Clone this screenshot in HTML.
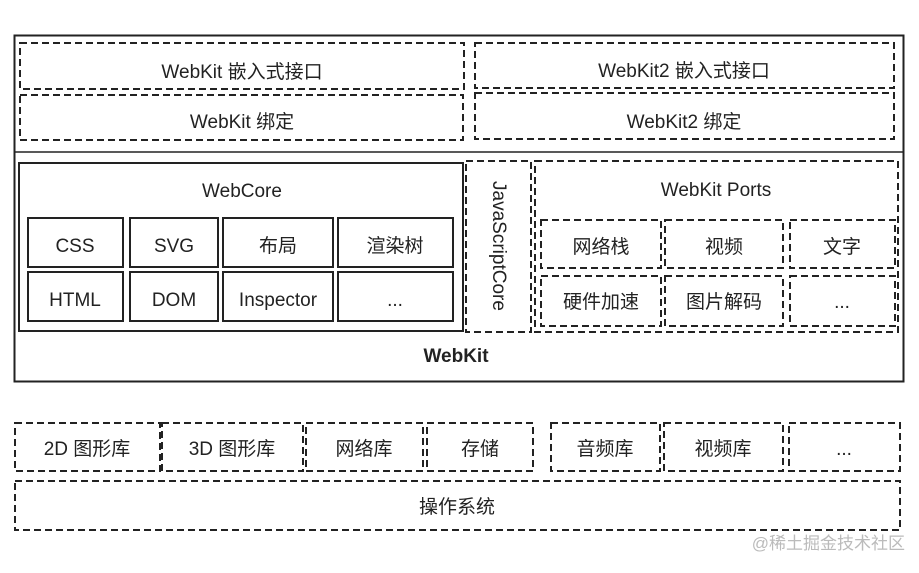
<!DOCTYPE html>
<html><head><meta charset="utf-8"><style>
html,body{margin:0;padding:0;background:#fff;}
svg text{font-family:"Liberation Sans","Noto Sans CJK SC",sans-serif;fill:#222;}
</style></head><body>
<svg width="919" height="568" viewBox="0 0 919 568" xmlns="http://www.w3.org/2000/svg">
<g fill="none" stroke="#222">
<rect x="14.5" y="35.5" width="889" height="346" stroke-width="2"/>
<line x1="14" y1="152" x2="904" y2="152" stroke-width="1.5"/>
<g stroke-dasharray="7,4" stroke-width="2">
<rect x="20" y="43" width="444" height="46"/>
<rect x="20" y="95" width="443" height="45"/>
<rect x="475" y="43" width="419" height="45"/>
<rect x="475" y="93" width="419" height="46"/>
<rect x="466" y="161" width="65" height="171"/>
<rect x="535" y="161" width="363" height="171"/>
<rect x="541" y="220" width="120" height="48"/>
<rect x="665" y="220" width="118" height="48"/>
<rect x="790" y="220" width="105" height="48"/>
<rect x="541" y="276" width="120" height="50"/>
<rect x="665" y="276" width="118" height="50"/>
<rect x="790" y="276" width="105" height="50"/>
<rect x="15" y="423" width="145" height="48"/>
<rect x="162" y="423" width="141" height="48"/>
<rect x="306" y="423" width="117" height="48"/>
<rect x="427" y="423" width="106" height="48"/>
<rect x="551" y="423" width="109" height="48"/>
<rect x="664" y="423" width="119" height="48"/>
<rect x="789" y="423" width="111" height="48"/>
<rect x="15" y="481" width="885" height="49"/>
</g>
<g stroke-width="2">
<rect x="19" y="163" width="444" height="168"/>
<rect x="28" y="218" width="95" height="49"/>
<rect x="130" y="218" width="88" height="49"/>
<rect x="223" y="218" width="110" height="49"/>
<rect x="338" y="218" width="115" height="49"/>
<rect x="28" y="272" width="95" height="49"/>
<rect x="130" y="272" width="88" height="49"/>
<rect x="223" y="272" width="110" height="49"/>
<rect x="338" y="272" width="115" height="49"/>
</g>
</g>
<g font-size="19" text-anchor="middle">
<text x="242" y="78">WebKit 嵌入式接口</text>
<text x="242" y="128">WebKit 绑定</text>
<text x="684" y="77">WebKit2 嵌入式接口</text>
<text x="684" y="128">WebKit2 绑定</text>
<text x="242" y="197">WebCore</text>
<text x="716" y="196">WebKit Ports</text>
<text x="75" y="252">CSS</text>
<text x="174" y="252">SVG</text>
<text x="278" y="252">布局</text>
<text x="395" y="252">渲染树</text>
<text x="75" y="306">HTML</text>
<text x="174" y="306">DOM</text>
<text x="278" y="306">Inspector</text>
<text x="395" y="306">...</text>
<text x="601" y="253">网络栈</text>
<text x="724" y="253">视频</text>
<text x="842" y="253">文字</text>
<text x="601" y="308">硬件加速</text>
<text x="724" y="308">图片解码</text>
<text x="842" y="308">...</text>
<text x="498" y="246" transform="rotate(90 498 246)" dominant-baseline="middle">JavaScriptCore</text>
<text x="456" y="362" font-weight="bold">WebKit</text>
<text x="87" y="455">2D 图形库</text>
<text x="232" y="455">3D 图形库</text>
<text x="364" y="455">网络库</text>
<text x="480" y="455">存储</text>
<text x="605" y="455">音频库</text>
<text x="723" y="455">视频库</text>
<text x="844" y="455">...</text>
<text x="457" y="513">操作系统</text>
</g>
<text x="905" y="549" font-size="17" text-anchor="end" style="fill:#bbb">@稀土掘金技术社区</text>
</svg>
</body></html>
